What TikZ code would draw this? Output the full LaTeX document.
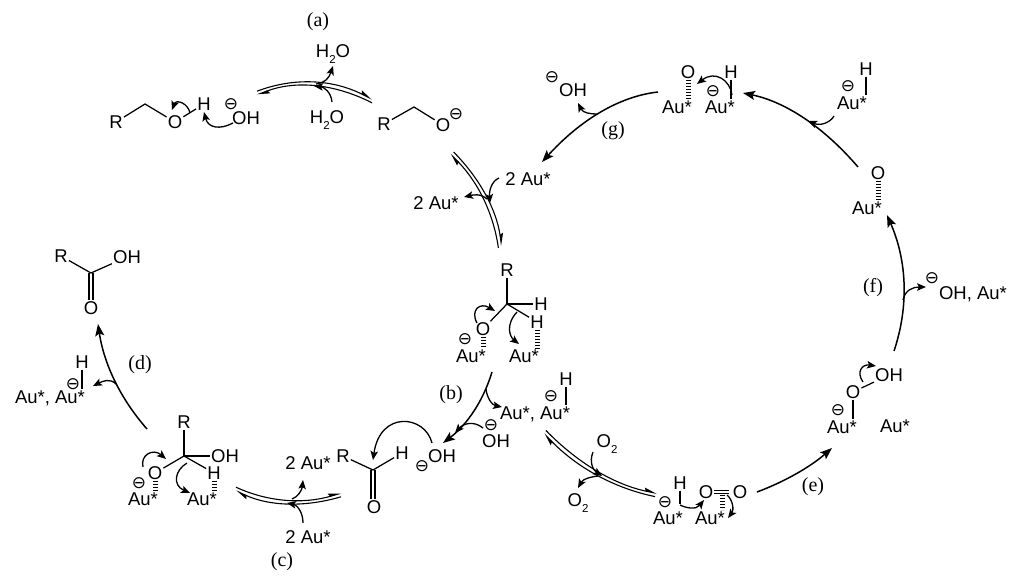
\documentclass[tikz,border=0pt]{standalone}
\usepackage{fontspec}
\setmainfont{Liberation Sans}
\newfontfamily\lblfont{Liberation Serif}
\newfontfamily\symfont{DejaVu Sans}
\usetikzlibrary{arrows.meta,calc}
\newcommand\subn[1]{\raisebox{-.3em}{\fontsize{11.5}{11.5}\selectfont #1}}
\newcommand\curv[5]{\coordinate (#1s) at (#2); \coordinate (#1e) at (#5);
  \draw[curly] (#1s) .. controls (#3) and (#4) .. (#1e);}
\newcommand\bigarr[4]{\coordinate (#1s) at (#2); \coordinate (#1e) at (#4); \coordinate (#1q) at (#3);
  \draw[bigarrow] (#1s) .. controls ($(#1q)+0.1667*(#1s)-0.1667*(#1e)$) and ($(#1q)-0.1667*(#1s)+0.1667*(#1e)$) .. (#1e);}
% name, start, control, end, dx, dy (dx,dy: offset of the line running start -> end)
\newcommand\eqarr[6]{\coordinate (#1s) at (#2); \coordinate (#1e) at (#4); \coordinate (#1q) at (#3);
  \coordinate (#1a) at ($(#1q)+0.1667*(#1s)-0.1667*(#1e)$); \coordinate (#1b) at ($(#1q)-0.1667*(#1s)+0.1667*(#1e)$);
  \draw[eqline] ([shift={(#5,#6)}]#1s) .. controls ([shift={(#5,#6)}]#1a) and ([shift={(#5,#6)}]#1b) .. ([shift={(#5,#6)}]#1e);
  \draw[eqline] ([shift={(-#5,-#6)}]#1e) .. controls ([shift={(-#5,-#6)}]#1b) and ([shift={(-#5,-#6)}]#1a) .. ([shift={(-#5,-#6)}]#1s);}
\tikzset{
  x=1pt,y=-1pt,
  atom/.style={inner sep=1pt,font=\fontsize{18.5}{18.5}\selectfont,text height=13pt,text depth=0pt},
  lbl/.style={inner sep=0pt,font=\lblfont\fontsize{20}{20}\selectfont},
  minus/.style={inner sep=0pt,font=\symfont\fontsize{17}{17}\selectfont},
  bond/.style={line width=1.25pt},
  hash/.style={line width=5pt,dash pattern=on 1.1pt off 1.9pt},
  curly/.style={line width=1.3pt,-{Stealth[length=9pt,width=7.5pt,inset=2pt]}},
  bigarrow/.style={line width=1.5pt,-{Stealth[length=12pt,width=9pt,inset=2.5pt]}},
  eqline/.style={line width=1.1pt,-{Stealth[harpoon,length=11pt,width=6.5pt,inset=1.5pt]}},
}
\begin{document}
\begin{tikzpicture}
\useasboundingbox (0,0) rectangle (1024,578);
% labels
\node[lbl] (la) at (318,22) {(a)};
\node[lbl] (lb) at (451,395) {(b)};
\node[lbl] (lc) at (282,562) {(c)};
\node[lbl] (ld) at (140,365) {(d)};
\node[lbl] (le) at (813,487) {(e)};
\node[lbl] (lf) at (873,288) {(f)};
\node[lbl] (lg) at (613,131) {(g)};
% top-left substrate
\node[atom] (r1) at (116,122) {R};
\coordinate (c1) at (145,104);
\node[atom] (o1) at (175,122) {O};
\node[atom] (h1) at (204,104) {H};
\node[minus] (n1) at (231,104) {⊖};
\node[atom] (oh1) at (246,118) {OH};
\draw[bond] (r1) -- (c1) -- (o1);
\draw[bond] (o1) -- (h1);
\curv{a1}{190,113}{188,103}{176,99}{172,110}
\curv{a2}{233,123}{220,130}{208,128}{204,112}
% step (a)
\node[atom] (w1) at (333,51) {H\subn{2}O};
\node[atom] (w2) at (327,117) {H\subn{2}O};
\eqarr{ea}{257,93}{314,80}{372,101}{0}{-1.8}
\curv{a3}{332,102}{331,92}{324,87}{314,86}
\curv{a4}{316,84}{325,83}{329,78}{333,66}
% alkoxide
\node[atom] (r2) at (384,124) {R};
\coordinate (c2) at (414,107);
\node[atom] (o2) at (443,125) {O};
\node[minus] (n2) at (456,114) {⊖};
\draw[bond] (r2) -- (c2) -- (o2);
% adsorption
\eqarr{eb}{452,153}{487,196}{500,247}{1.6}{-1.0}
\node[atom] (au1) at (528,179) {2 Au*};
\node[atom] (au2) at (436,203) {2 Au*};
\curv{a5}{499,178}{492,181}{489,190}{490,203}
\curv{a6}{487,199}{480,193}{473,195}{464,197}
% centre adsorbed alkoxide
\node[atom] (r3) at (507,270) {R};
\coordinate (c3) at (507,304);
\node[atom] (h3) at (541,304) {H};
\node[atom] (h4) at (537,322) {H};
\node[atom] (o3) at (483,329) {O};
\node[atom] (au3) at (471,356) {Au*};
\node[atom] (au4) at (524,356) {Au*};
\node[minus] (n3) at (465,339) {⊖};
\draw[bond] (r3) -- (c3) -- (h3);
\draw[bond] (c3) -- (h4);
\draw[bond] (c3) -- (o3);
\draw[hash] (o3.south) -- (o3.south |- au3.north);
\draw[hash] (h4.south) -- (h4.south |- au4.north);
\curv{a7}{477,323}{470,310}{480,302}{495,311}
\curv{a8}{517,312}{505,325}{510,337}{519,344}
% step (b)
\bigarr{bb}{492,372}{475,413}{443,443}
\node[atom] (au5) at (535,413) {Au*, Au*};
\node[atom] (h5) at (566,379) {H};
\node[minus] (n5) at (551,396) {⊖};
\draw[bond] (h5.south) -- (h5.south |- au5.north);
\curv{a9}{486,389}{487,398}{492,405}{502,407}
\node[minus] (n6) at (491,425) {⊖};
\node[atom] (oh2) at (496,441) {OH};
\curv{a10}{483,428}{473,420}{463,424}{455,433}
% aldehyde
\node[atom] (oh3) at (442,456) {OH};
\node[minus] (n7) at (422,466) {⊖};
\curv{a11}{432,443}{425,415}{380,410}{373,460}
\node[atom] (r4) at (343,456) {R};
\coordinate (c4) at (373,470);
\node[atom] (h6) at (402,453) {H};
\node[atom] (o4) at (374,507) {O};
\draw[bond] (r4) -- (c4) -- (h6);
\draw[bond] ([xshift=-2pt]c4) -- ([xshift=-2pt]c4 |- o4.north);
\draw[bond] ([xshift=2pt]c4) -- ([xshift=2pt]c4 |- o4.north);
% step (c)
\eqarr{ec}{236,489}{286,505}{341,495}{0}{-1.8}
\node[atom] (au6) at (308,463) {2 Au*};
\node[atom] (au7) at (308,537) {2 Au*};
\curv{a12}{303,523}{303,512}{297,505}{287,503}
\curv{a13}{292,499}{298,497}{302,490}{303,480}
% left hydrate
\node[atom] (r5) at (184,422) {R};
\coordinate (c5) at (184,456);
\node[atom] (oh4) at (225,456) {OH};
\node[atom] (h7) at (214,473) {H};
\node[atom] (o5) at (155,473) {O};
\node[atom] (au8) at (143,499) {Au*};
\node[atom] (au9) at (202,499) {Au*};
\node[minus] (n8) at (139,483) {⊖};
\draw[bond] (r5) -- (c5) -- (oh4);
\draw[bond] (c5) -- (h7);
\draw[bond] (c5) -- (o5);
\draw[hash] (o5.south) -- (o5.south |- au8.north);
\draw[hash] (h7.south) -- (h7.south |- au9.north);
\curv{a14}{143,467}{140,455}{153,448}{166,459}
\curv{a15}{187,463}{175,470}{172,485}{190,493}
% step (d)
\bigarr{bd}{147,429}{112,381}{98,324}
\node[atom] (au10) at (50,397) {Au*, Au*};
\node[atom] (h8) at (82,362) {H};
\node[minus] (n9) at (73,384) {⊖};
\draw[bond] (h8.south) -- (h8.south |- au10.north);
\curv{a16}{116,384}{110,378}{103,381}{93,386}
% acid
\node[atom] (r6) at (61,256) {R};
\coordinate (c6) at (91,273);
\node[atom] (oh5) at (127,257) {OH};
\node[atom] (o6) at (91,308) {O};
\draw[bond] (r6) -- (c6) -- (oh5);
\draw[bond] ([xshift=-2pt]c6) -- ([xshift=-2pt]c6 |- o6.north);
\draw[bond] ([xshift=2pt]c6) -- ([xshift=2pt]c6 |- o6.north);
% O2 step
\eqarr{ed}{545,432}{596,476}{656,495}{0.9}{-1.6}
\node[atom] (o7) at (607,441) {O\subn{2}};
\node[atom] (o8) at (578,500) {O\subn{2}};
\curv{a17}{593,452}{589,462}{593,470}{602,476}
\curv{a18}{598,476}{590,477}{583,479}{578,488}
% Au-H + O2
\node[minus] (n10) at (665,502) {⊖};
\node[atom] (au11) at (668,518) {Au*};
\node[atom] (h9) at (680,483) {H};
\node[atom] (au12) at (710,518) {Au*};
\node[atom] (o9) at (706,492) {O};
\node[atom] (o10) at (740,492) {O};
\draw[bond] (h9.south) -- ([yshift=-13pt]h9.south);
\draw[bond,shorten >=3pt] ([yshift=1.5pt]o9.east) -- ([yshift=1.5pt]o10.west);
\draw[bond,shorten >=3pt] ([yshift=-1.5pt]o9.east) -- ([yshift=-1.5pt]o10.west);
\coordinate (d9) at (722,495);
\coordinate (d10) at (722,510);
\draw[hash] (d9) -- (d10);
\curv{a19}{680,505}{686,508}{696,510}{704,500}
\curv{a20}{727,495}{733,500}{734,510}{728,518}
% step (e)
\bigarr{be}{757,492}{798,474}{832,448}
\node[atom] (au13) at (842,427) {Au*};
\node[atom] (au14) at (895,426) {Au*};
\node[minus] (n11) at (838,410) {⊖};
\node[atom] (o11) at (853,392) {O};
\node[atom] (oh6) at (889,375) {OH};
\draw[bond] (o11) -- (oh6);
\draw[bond] (o11.south) -- (o11.south |- au13.north);
\curv{a21}{863,382}{856,372}{862,364}{876,366}
% step (f)
\bigarr{bf}{894,351}{908,283}{887,215}
\node[minus] (n12) at (932,278) {⊖};
\node[atom] (au15) at (973,293) {OH, Au*};
\curv{a22}{903,300}{905,290}{913,287}{926,287}
% Au=O
\node[atom] (o12) at (878,173) {O};
\node[atom] (au16) at (867,208) {Au*};
\draw[hash] (o12.south) -- (o12.south |- au16.north);
\bigarr{bt}{858,167}{804,114}{743,93}
\node[atom] (h10) at (866,69) {H};
\node[minus] (n13) at (848,86) {⊖};
\node[atom] (au17) at (852,103) {Au*};
\draw[bond] (h10.south) -- (h10.south |- au17.north);
\curv{a23}{834,116}{830,123}{820,126}{808,121}
% top
\node[atom] (o13) at (688,72) {O};
\node[atom] (au18) at (677,107) {Au*};
\node[atom] (au19) at (720,107) {Au*};
\node[minus] (n14) at (713,91) {⊖};
\node[atom] (h11) at (731,72) {H};
\draw[hash] (o13.south) -- (o13.south |- au18.north);
\draw[bond] (h11.south) -- (h11.south |- au19.north);
\curv{a24}{732,95}{730,80}{715,70}{697,84}
% step (g)
\bigarr{bg}{658,92}{600,108}{542,162}
\node[minus] (n15) at (552,77) {⊖};
\node[atom] (oh7) at (573,90) {OH};
\curv{a25}{598,114}{590,114}{583,113}{578,103}
\end{tikzpicture}
\end{document}
